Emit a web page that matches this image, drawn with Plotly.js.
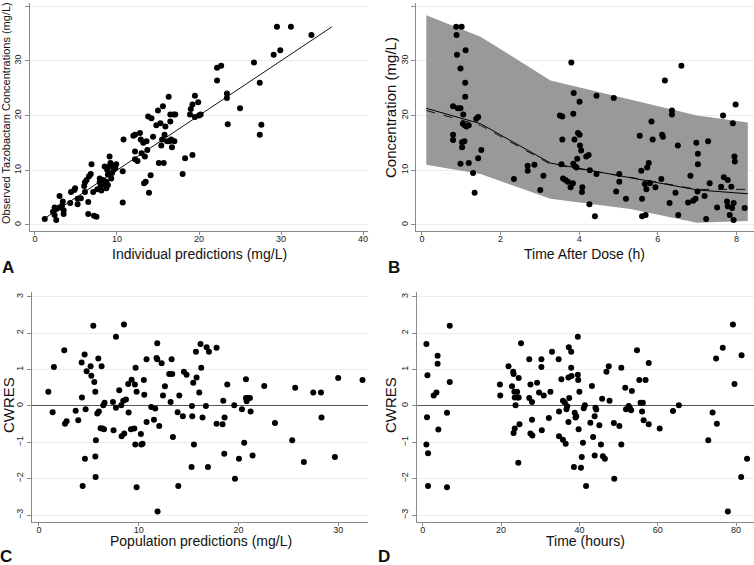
<!DOCTYPE html>
<html>
<head>
<meta charset="utf-8">
<script src="https://cdn.plot.ly/plotly-3.0.1.min.js"></script>
<style>html,body{margin:0;padding:0;background:#fff;}#chart{width:754px;height:565px;}</style>
</head>
<body>
<div id="chart"></div>
<script>
// Panel A: observed vs individual predictions
const aIpred = [1.2,2.2,2.4,2.6,2.4,2.6,3.0,3.3,3.4,3.5,3.5,3.0,4.3,4.4,4.8,4.9,5.2,5.2,5.6,6.1,6.0,6.1,6.3,6.5,6.5,6.6,6.8,6.9,7.1,7.2,7.5,7.6,7.9,7.9,8.0,8.1,8.3,8.3,8.5,8.7,8.7,8.8,8.9,8.9,9.1,9.1,9.2,9.3,9.4,9.6,9.6,9.8,9.9,10.7,10.7,10.8,12.0,12.2,12.2,12.2,12.5,12.8,12.9,13.0,13.2,13.4,13.3,13.5,13.6,13.7,13.8,13.9,14.1,14.2,14.4,14.8,15.0,15.1,15.3,15.4,15.5,15.6,15.7,15.8,15.9,16.1,16.3,16.4,16.5,16.5,16.6,16.7,16.9,17.0,17.1,18.0,18.3,18.9,19.0,19.2,19.2,19.5,19.5,19.9,20.0,20.2,22.2,22.2,22.7,23.4,23.4,23.5,25.0,26.7,27.4,27.4,27.6,29.1,29.5,29.9,31.2,33.7];
const aObs = [1.1,2.4,1.8,0.9,3.2,2.9,5.3,3.5,4.3,2.7,2.0,3.2,4.0,6.0,6.4,6.7,3.8,4.8,4.9,6.0,7.1,7.8,8.2,4.2,2.0,8.9,9.3,11.1,6.0,1.7,1.5,6.5,8.5,7.8,7.0,6.3,8.2,7.5,10.7,7.9,6.7,10.1,7.3,9.2,12.5,10.7,11.3,8.5,9.5,10.1,10.8,10.4,11.1,4.1,9.8,15.6,16.3,16.5,12.0,13.4,11.7,16.8,15.6,13.1,15.0,12.5,7.6,7.9,15.3,13.7,19.8,5.9,9.1,19.5,16.1,18.2,20.9,11.3,18.6,14.5,15.6,21.7,11.3,16.5,18.0,15.3,23.4,15.3,20.2,18.9,15.6,14.2,20.2,15.3,20.2,9.3,12.2,20.2,21.2,22.0,12.8,23.6,19.7,22.4,20.0,20.2,28.7,26.4,29.1,24.0,23.2,18.4,21.3,29.7,26.0,16.5,18.3,31.1,36.2,31.9,36.2,34.7];
const aLineX = [1.1, 36.2];
const aLineY = [1.1, 36.2];

// Panel B: visual predictive check
const bTime = [0.79,0.79,0.79,0.87,0.88,0.89,0.91,0.98,0.98,0.98,1.01,1.02,1.02,1.05,1.04,1.08,1.09,1.10,1.10,1.11,1.13,1.19,1.19,1.30,1.34,1.38,1.43,1.43,1.51,2.34,2.69,2.69,2.86,3.01,3.09,3.51,3.57,3.57,3.55,3.59,3.65,3.71,3.78,3.80,3.84,3.85,3.85,3.86,3.88,3.90,3.93,3.95,3.97,4.01,4.01,4.02,4.05,4.07,4.08,4.18,4.24,4.26,4.27,4.40,4.44,4.44,4.88,4.94,5.02,5.02,5.19,5.54,5.58,5.60,5.60,5.67,5.69,5.71,5.73,5.77,5.80,5.84,5.87,5.94,6.09,6.11,6.13,6.18,6.30,6.36,6.36,6.45,6.51,6.52,6.60,6.77,6.83,6.90,6.96,6.98,7.01,7.02,7.02,7.19,7.23,7.28,7.32,7.51,7.61,7.66,7.68,7.76,7.78,7.78,7.83,7.87,7.89,7.91,7.93,7.93,7.95,7.96,7.98,8.21];
const bConc = [21.7,16.5,15.5,36.2,34.7,31.1,21.3,28.6,21.3,11.2,36.2,15.1,14.2,20.2,18.5,15.3,18.2,23.4,26.0,31.9,18.0,18.2,11.3,9.5,5.9,19.4,19.7,12.2,13.7,8.4,10.8,9.9,11.0,6.4,9.0,20.0,19.8,15.6,11.1,8.5,8.2,7.9,6.9,29.7,7.6,11.2,20.3,24.1,15.6,10.7,10.5,12.1,16.8,22.5,16.5,14.5,13.6,6.0,6.9,12.5,12.8,3.8,10.0,1.6,9.3,23.6,23.2,6.1,9.3,7.9,4.8,16.3,9.9,1.6,4.8,7.5,1.8,6.5,10.5,11.3,7.6,18.9,15.6,6.9,8.4,16.5,16.1,26.4,4.0,20.2,20.9,5.9,14.5,1.8,29.1,4.1,9.0,4.4,4.8,15.0,6.1,13.0,11.1,5.3,1.1,15.3,7.6,3.2,7.0,20.0,8.7,4.3,8.2,3.4,1.8,7.0,3.1,18.6,0.9,4.0,12.5,11.6,22.0,3.1,2.4];
const bandTime = [0.11, 1.49, 3.27, 5.30, 7.00, 8.29];
const bandUpper = [38.3, 34.4, 26.4, 22.9, 20.0, 18.7];
const bandLower = [11.0, 9.3, 4.8, 2.9, 0.4, 0.7];
const medObs = [21.3, 18.5, 11.3, 8.6, 6.4, 5.7];
const medPred = [20.9, 18.2, 11.1, 8.7, 6.5, 6.5];

// Panel C: CWRES vs population predictions
const cPred = [0.94,1.37,1.50,2.54,2.61,2.77,3.68,3.94,4.28,4.31,4.38,4.58,4.61,4.68,4.78,5.18,5.25,5.45,5.55,5.65,5.65,5.68,5.71,5.85,5.95,6.01,6.18,6.28,6.38,6.45,6.58,6.52,7.42,7.48,7.72,7.72,8.05,8.25,8.29,8.45,8.52,8.55,8.72,8.95,8.99,9.22,9.29,9.56,9.62,9.66,9.69,9.79,9.79,10.22,10.26,10.39,10.52,10.56,10.79,10.79,11.26,11.53,11.66,11.79,11.86,11.86,11.89,12.06,12.30,12.43,12.63,13.06,13.20,13.30,13.36,13.43,13.90,13.97,14.07,14.43,14.53,14.80,15.30,15.34,15.37,15.47,15.54,15.74,15.80,16.07,16.20,16.27,16.40,16.74,16.81,16.94,17.04,17.81,17.81,18.41,18.48,18.58,18.61,18.88,19.58,19.65,20.05,20.35,20.58,20.75,20.75,20.82,20.88,21.15,21.22,21.42,22.59,23.66,25.39,25.69,26.56,27.50,28.27,28.33,29.67,30.00,32.44];
const cCwres = [0.39,-0.17,1.07,1.53,-0.49,-0.42,-0.13,-0.39,1.19,0.23,-2.20,1.41,-1.45,-0.09,0.95,1.09,0.83,2.20,0.66,0.39,-1.39,-1.95,-0.94,-0.21,1.30,-0.15,-0.61,1.09,-0.62,0.02,0.09,-0.64,0.11,-0.67,1.90,-0.05,0.43,0.02,-0.83,0.14,2.24,-0.76,0.18,0.60,-0.18,-0.64,0.72,-0.62,0.59,-1.06,1.05,0.39,-2.23,-0.77,-1.06,-1.04,0.71,0.31,1.28,-0.44,-0.03,-0.38,-0.07,1.32,1.72,1.28,-2.90,-0.55,1.17,0.29,0.54,0.88,0.11,1.28,0.88,-0.85,-0.17,-2.20,0.29,-0.28,0.94,0.86,-1.68,0.00,-0.28,0.64,-1.06,1.49,0.78,0.37,1.70,1.05,-0.32,0.00,1.61,-1.68,1.49,1.60,-0.49,-0.50,0.14,-1.31,-0.32,0.59,0.02,-2.00,-1.45,-0.09,-1.01,0.73,0.22,0.13,0.22,0.22,-0.15,-1.36,0.55,-0.47,-0.94,0.50,-1.54,0.37,0.37,-0.32,-1.40,0.77,0.71];

// Panel D: CWRES vs time
const dTime = [0.94,1.1,0.94,1.2,1.36,1.36,2.8,3.5,3.8,3.8,4.0,6.2,6.2,6.9,6.9,19.7,19.8,21.9,22.8,23.1,23.2,23.2,23.4,23.5,23.5,23.7,24.1,24.3,24.4,24.5,24.7,24.5,25.1,27.2,27.2,27.5,27.5,27.9,27.9,28.0,29.2,29.7,30.3,30.3,30.4,30.9,32.2,32.6,33.0,34.7,34.8,34.8,35.4,35.8,35.8,36.3,36.5,36.7,36.9,37.2,37.2,37.3,37.4,37.9,37.9,38.0,38.6,38.8,39.0,39.2,39.6,39.6,39.7,39.8,40.0,40.4,40.6,40.9,41.1,41.4,41.7,42.8,43.2,43.5,43.9,43.9,44.1,44.3,45.1,45.5,45.8,46.0,46.5,46.9,47.5,47.7,48.8,48.9,50.2,50.7,50.7,51.7,51.9,52.6,52.9,53.2,53.4,54.7,55.3,55.6,56.0,56.2,56.4,56.9,57.7,57.7,60.5,63.9,65.4,72.9,74.0,74.9,75.1,76.6,77.9,79.2,79.6,81.3,81.4,82.8];
const dCwres = [1.70,-0.31,-1.06,0.84,-1.30,-2.20,0.29,0.37,1.38,1.16,-0.65,-0.19,-2.23,2.20,0.66,0.59,0.29,1.09,0.54,0.94,0.88,-0.74,0.39,-0.62,0.23,0.02,0.39,0.23,-1.56,0.77,-0.50,0.23,1.72,1.28,0.22,0.59,-0.76,0.11,-0.38,-0.81,0.64,0.37,1.28,1.07,-0.67,0.29,-0.33,0.39,1.49,1.28,-0.15,-0.83,0.73,0.14,-0.93,0.09,-1.04,-0.09,-0.01,-0.44,0.78,1.61,0.22,1.05,1.49,0.82,-1.68,-0.19,-0.32,-0.28,1.90,0.86,0.71,-0.64,0.39,-1.70,-1.40,-1.01,-0.06,0.02,-2.20,-0.46,0.55,-0.85,-1.36,-0.28,-0.05,-0.10,-0.53,-1.06,0.20,-1.38,-1.45,0.94,1.09,0.14,-0.47,-2.00,-0.55,1.05,-1.06,0.50,-0.09,0.00,-0.06,-0.12,0.41,1.53,0.71,0.09,-0.15,0.09,-0.39,0.71,1.18,-0.50,-0.62,-0.14,0.02,-0.94,-0.18,1.30,-0.49,1.60,-2.90,2.24,0.60,-1.95,1.39,-1.45];

const xTicksA = [0,10,20,30,40];
const yTicksAB = [0,10,20,30,40];
const xTicksB = [0,2,4,6,8];
const xTicksC = [0,10,20,30];
const xTicksD = [0,20,40,60,80];
const yTicksCD = [-3,-2,-1,0,1,2,3];

const FONT = 'Liberation Sans, Arial, Helvetica, sans-serif';
const AX = '#8a8a8a';
const GRID = '#ececec';
const mk = {color: '#000', size: 6, line: {width: 0}};

const traces = [
  {x: aLineX, y: aLineY, mode: 'lines', line: {color: '#111', width: 1}, xaxis: 'x', yaxis: 'y', hoverinfo: 'skip'},
  {x: aIpred, y: aObs, mode: 'markers', marker: mk, xaxis: 'x', yaxis: 'y'},
  {x: bandTime, y: bandLower, mode: 'lines', line: {width: 0, color: '#999'}, xaxis: 'x2', yaxis: 'y2', hoverinfo: 'skip'},
  {x: bandTime, y: bandUpper, mode: 'lines', line: {width: 0, color: '#999'}, fill: 'tonexty', fillcolor: '#999999', xaxis: 'x2', yaxis: 'y2', hoverinfo: 'skip'},
  {x: bandTime, y: medPred, mode: 'lines', line: {color: '#111', width: 1, dash: 'dash'}, xaxis: 'x2', yaxis: 'y2'},
  {x: bandTime, y: medObs, mode: 'lines', line: {color: '#000', width: 1}, xaxis: 'x2', yaxis: 'y2'},
  {x: bTime, y: bConc, mode: 'markers', marker: mk, xaxis: 'x2', yaxis: 'y2'},
  {x: cPred, y: cCwres, mode: 'markers', marker: mk, xaxis: 'x3', yaxis: 'y3'},
  {x: dTime, y: dCwres, mode: 'markers', marker: mk, xaxis: 'x4', yaxis: 'y4'}
];

function xa(domain, range, ticks, anchor) {
  return {domain: domain, range: range, tickvals: ticks, ticktext: ticks.map(String), anchor: anchor,
    showline: true, linecolor: AX, linewidth: 1, ticks: 'outside', ticklen: 3, tickcolor: AX, tickwidth: 1,
    ticklabelstandoff: -4,
    showgrid: false, zeroline: false, tickfont: {family: FONT, size: 9, color: '#222'}, fixedrange: true};
}
function ya(domain, range, ticks, anchor, zero) {
  return {domain: domain, range: range, tickvals: ticks, ticktext: ticks.map(t => t < 0 ? '\u2212' + Math.abs(t) : String(t)), anchor: anchor,
    showline: true, linecolor: AX, linewidth: 1, ticks: 'outside', ticklen: 4, tickcolor: AX, tickwidth: 1,
    showgrid: true, gridcolor: GRID, gridwidth: 1, zeroline: !!zero, zerolinecolor: '#555', zerolinewidth: 1,
    tickangle: -90, tickfont: {family: FONT, size: 9, color: '#222'}, fixedrange: true};
}

function ann(text, px, py, size, angle, bold) {
  return {text: text, xref: 'paper', yref: 'paper', x: px / 754, y: 1 - py / 565, xanchor: 'center', yanchor: 'middle',
    showarrow: false, textangle: angle || 0, font: {family: FONT, size: size, color: '#111', weight: bold ? 'bold' : 'normal'}};
}

const layout = {
  width: 754, height: 565, margin: {l: 0, r: 0, t: 0, b: 0},
  paper_bgcolor: '#fff', plot_bgcolor: '#fff', showlegend: false,
  xaxis: xa([0.0398, 0.4881], [-0.6, 40.6], xTicksA, 'y'),
  yaxis: ya([0.5912, 0.9947], [-1.1, 40.55], yTicksAB, 'x'),
  xaxis2: xa([0.5521, 0.9996], [-0.145, 8.44], xTicksB, 'y2'),
  yaxis2: ya([0.5912, 0.9947], [-1.1, 40.55], yTicksAB, 'x2'),
  xaxis3: xa([0.0420, 0.4882], [-0.73, 33.0], xTicksC, 'y3'),
  yaxis3: ya([0.0766, 0.4832], [-3.18, 3.13], yTicksCD, 'x3', true),
  xaxis4: xa([0.5531, 0.9996], [-1.45, 84.5], xTicksD, 'y4'),
  yaxis4: ya([0.0766, 0.4832], [-3.18, 3.13], yTicksCD, 'x4', true),
  annotations: [
    ann('Individual predictions (mg/L)', 199, 254, 14),
    ann('Observed Tazobactam Concentrations (mg/L)', 6, 113, 11, -90),
    ann('Time After Dose (h)', 584, 254, 14),
    ann('Concentration (mg/L)', 391, 108, 15, -90),
    ann('Population predictions (mg/L)', 201, 541, 14),
    ann('CWRES', 8, 405, 15, -90),
    ann('Time (hours)', 585, 541, 14),
    ann('CWRES', 390, 405, 15, -90),
    ann('A', 8, 267, 17, 0, true),
    ann('B', 394, 267, 17, 0, true),
    ann('C', 6, 556, 17, 0, true),
    ann('D', 384, 556, 17, 0, true)
  ]
};

Plotly.newPlot('chart', traces, layout, {displayModeBar: false, staticPlot: true});
</script>
</body>
</html>
